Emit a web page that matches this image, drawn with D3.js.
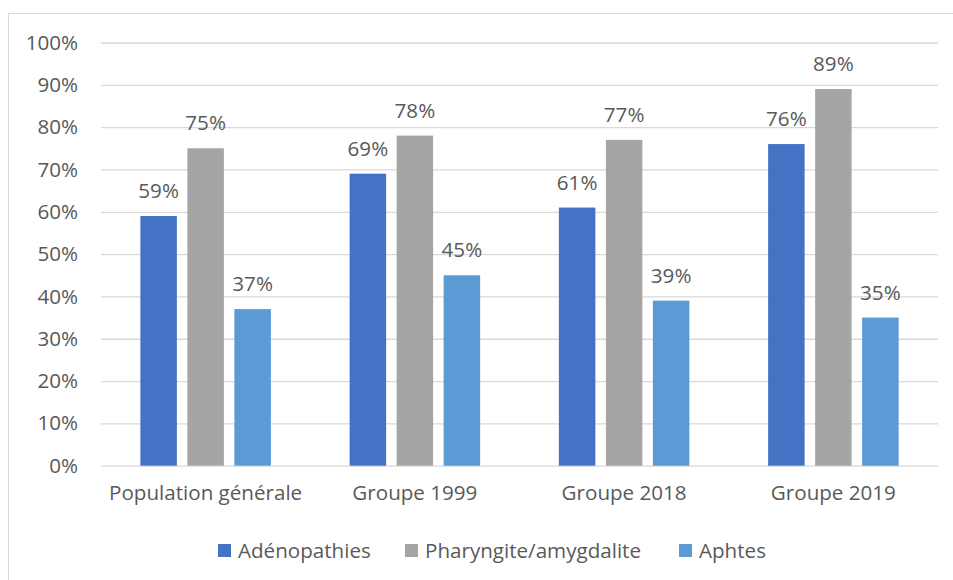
<!DOCTYPE html>
<html>
<head>
<meta charset="utf-8">
<style>
  body { margin: 0; background: #fff; }
  svg text { font-family: "Open Sans", sans-serif; fill: #595959; }
</style>
</head>
<body>
<div id="chart"></div>
<script src="https://d3js.org/d3.v7.min.js"></script>
<script>
// data
var categories = ["Population générale", "Groupe 1999", "Groupe 2018", "Groupe 2019"];
var series = ["Adénopathies", "Pharyngite/amygdalite", "Aphtes"];
var adenopathies = [59, 69, 61, 76];
var pharyngite = [75, 78, 77, 89];
var aphtes = [37, 45, 39, 35];
var yTicks = [0, 10, 20, 30, 40, 50, 60, 70, 80, 90, 100];

var values = [adenopathies, pharyngite, aphtes];
var colors = ["#4472C4", "#A5A5A5", "#5B9BD5"];

var data = categories.map(function(c, i) {
  return { cat: c, vals: series.map(function(s, j) { return { key: s, v: values[j][i] }; }) };
});

var W = 953, H = 580;
var fs = "20.6px";
var svg = d3.select("#chart").append("svg").attr("width", W).attr("height", H);

// outer frame
svg.append("rect")
  .attr("x", 8.5).attr("y", 13.5)
  .attr("width", W).attr("height", H)
  .attr("fill", "none").attr("stroke", "#D9D9D9").attr("stroke-width", 1);

var plotL = 101, plotR = 938, plotT = 42.5, plotB = 465.7;

var x0 = d3.scaleBand().domain(categories).range([plotL, plotR]);
var clusterW = 130.5;
var x1 = d3.scaleBand().domain(series)
  .range([x0.bandwidth() / 2 - clusterW / 2, x0.bandwidth() / 2 + clusterW / 2])
  .paddingInner(0.2234);
var y = d3.scaleLinear().domain([0, 100]).range([plotB, plotT]);
var z = d3.scaleOrdinal().domain(series).range(colors);

// gridlines + y labels
var yAxis = svg.append("g")
  .attr("transform", "translate(" + plotL + ",0)")
  .call(d3.axisLeft(y).tickValues(yTicks).tickSize(-(plotR - plotL)).tickPadding(23)
    .tickFormat(function(d) { return d + "%"; }));
yAxis.select(".domain").remove();
yAxis.selectAll(".tick line").attr("stroke", "#D9D9D9").attr("stroke-width", 1.3);
yAxis.selectAll(".tick text").style("font-size", fs).attr("fill", "#595959");

// x labels
var xAxis = svg.append("g")
  .attr("transform", "translate(0," + plotB + ")")
  .call(d3.axisBottom(x0).tickSize(0).tickPadding(20));
xAxis.select(".domain").remove();
xAxis.selectAll(".tick text").style("font-size", fs).attr("fill", "#595959");

// bars
var groups = svg.append("g").selectAll("g")
  .data(data).enter().append("g")
  .attr("transform", function(d) { return "translate(" + x0(d.cat) + ",0)"; });

groups.selectAll("rect")
  .data(function(d) { return d.vals; })
  .enter().append("rect")
  .attr("x", function(d) { return x1(d.key); })
  .attr("y", function(d) { return y(d.v); })
  .attr("width", x1.bandwidth())
  .attr("height", function(d) { return plotB - y(d.v); })
  .attr("fill", function(d) { return z(d.key); });

groups.selectAll("text.val")
  .data(function(d) { return d.vals; })
  .enter().append("text")
  .attr("class", "val")
  .attr("x", function(d) { return x1(d.key) + x1.bandwidth() / 2; })
  .attr("y", function(d) { return y(d.v) - 18; })
  .attr("text-anchor", "middle")
  .style("font-size", fs)
  .text(function(d) { return d.v + "%"; });

// legend
var legendX = [218, 405, 679];
var legend = svg.append("g").selectAll("g")
  .data(series).enter().append("g")
  .attr("transform", function(d, i) { return "translate(" + legendX[i] + ",544)"; });
legend.append("rect")
  .attr("width", 13).attr("height", 13)
  .attr("fill", function(d) { return z(d); });
legend.append("text")
  .attr("x", 20).attr("y", 6.5).attr("dy", "0.35em")
  .style("font-size", fs)
  .text(function(d) { return d; });
</script>
</body>
</html>
